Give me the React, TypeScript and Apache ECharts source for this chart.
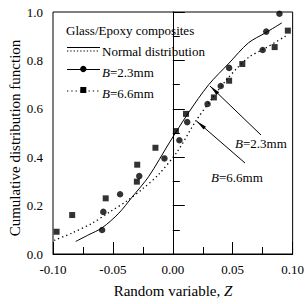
import React, { useEffect, useRef } from "react";
import * as echarts from "echarts";

// B = 2.3 mm measured points
const circleX = [-0.059, -0.058, -0.044, -0.028, -0.007, 0.0055, 0.012, 0.029, 0.040, 0.047, 0.075, 0.078, 0.089];
const circleY = [0.099, 0.174, 0.247, 0.322, 0.395, 0.470, 0.545, 0.620, 0.694, 0.769, 0.843, 0.919, 0.993];

// B = 6.6 mm measured points
const squareX = [-0.097, -0.084, -0.056, -0.030, -0.0297, -0.0145, 0.0026, 0.011, 0.0343, 0.047, 0.058, 0.085, 0.096];
const squareY = [0.092, 0.161, 0.230, 0.299, 0.369, 0.439, 0.508, 0.579, 0.647, 0.716, 0.785, 0.855, 0.923];

// Normal distribution curve for B = 2.3 mm (solid)
const solidX = [-0.081, -0.070, -0.059, -0.045, -0.034, -0.020, -0.003, 0.013, 0.030, 0.047, 0.063, 0.077, 0.091];
const solidY = [0.052, 0.080, 0.108, 0.169, 0.235, 0.321, 0.459, 0.583, 0.700, 0.789, 0.872, 0.913, 0.955];

// Normal distribution curve for B = 6.6 mm (dotted)
const dottedX = [-0.099, -0.084, -0.067, -0.052, -0.039, -0.025, -0.012, 0.004, 0.019, 0.034, 0.044, 0.054, 0.064, 0.077, 0.096];
const dottedY = [0.056, 0.087, 0.128, 0.176, 0.217, 0.270, 0.328, 0.425, 0.548, 0.651, 0.715, 0.770, 0.815, 0.850, 0.906];

const legendTitle = "Glass/Epoxy composites";
const legendNormal = "Normal distribution";
const label23 = "{i|B}{n|=2.3mm}";
const label66 = "{i|B}{n|=6.6mm}";
const xTitle = "{n|Random variable, }{i|Z}";
const yTitle = "Cumulative distribution function";

const FONT = "Liberation Serif, serif";

const rich = (size: number) => ({
  i: { fontStyle: "italic", fontFamily: FONT, fontSize: size, fill: "#000" },
  n: { fontStyle: "normal", fontFamily: FONT, fontSize: size, fill: "#000" },
});

function arrowHead(tip: [number, number], tail: [number, number], len: number, half: number) {
  const dx = tail[0] - tip[0];
  const dy = tail[1] - tip[1];
  const d = Math.sqrt(dx * dx + dy * dy);
  const ux = dx / d;
  const uy = dy / d;
  const bx = tip[0] + ux * len;
  const by = tip[1] + uy * len;
  return [
    [tip[0], tip[1]],
    [bx - uy * half, by + ux * half],
    [bx + uy * half, by - ux * half],
  ];
}

export default function App() {
  const ref = useRef<HTMLDivElement>(null);

  useEffect(() => {
    if (!ref.current) return;
    const chart = echarts.init(ref.current, undefined, { renderer: "svg" });

    const axisCommon = {
      axisLine: { lineStyle: { color: "#000", width: 1 } },
      axisTick: { inside: true, length: 12, lineStyle: { color: "#000", width: 1 } },
      minorTick: { show: true, splitNumber: 2, length: 7, lineStyle: { color: "#000", width: 1 } },
      splitLine: { show: false },
      minorSplitLine: { show: false },
    };

    const a1Tip: [number, number] = [210, 86];
    const a1Tail: [number, number] = [261, 135];
    const a2Tip: [number, number] = [196.5, 121];
    const a2Tail: [number, number] = [245, 163];

    const txt = (x: number, y: number, text: string, size = 13, extra: any = {}) => ({
      type: "text",
      x,
      y,
      style: {
        text,
        fontFamily: FONT,
        fontSize: size,
        fill: "#000",
        verticalAlign: "middle",
        rich: rich(size),
        ...extra,
      },
    });

    chart.setOption({
      animation: false,
      backgroundColor: "#fff",
      textStyle: { fontFamily: FONT },
      grid: {
        left: 53,
        right: 13,
        top: 12,
        bottom: 50,
        show: true,
        borderColor: "#000",
        borderWidth: 1,
        backgroundColor: "transparent",
      },
      xAxis: {
        type: "value",
        min: -0.1,
        max: 0.1,
        interval: 0.05,
        ...axisCommon,
        axisLabel: {
          color: "#000",
          fontFamily: FONT,
          fontSize: 13,
          margin: 9,
          formatter: (v: number) => v.toFixed(2),
        },
      },
      yAxis: {
        type: "value",
        min: 0,
        max: 1,
        interval: 0.2,
        ...axisCommon,
        axisLabel: {
          color: "#000",
          fontFamily: FONT,
          fontSize: 13,
          margin: 10,
          formatter: (v: number) => v.toFixed(1),
        },
      },
      series: [
        {
          type: "line",
          data: solidX.map((x, i) => [x, solidY[i]]),
          showSymbol: false,
          smooth: 0.3,
          lineStyle: { color: "#000", width: 1 },
          z: 2,
        },
        {
          type: "line",
          data: dottedX.map((x, i) => [x, dottedY[i]]),
          showSymbol: false,
          smooth: 0.3,
          lineStyle: { color: "#000", width: 1.3, type: [1.3, 3] },
          z: 2,
        },
        {
          type: "scatter",
          data: circleX.map((x, i) => [x, circleY[i]]),
          symbol: "circle",
          symbolSize: 6.5,
          itemStyle: { color: "#000" },
          z: 3,
        },
        {
          type: "scatter",
          data: squareX.map((x, i) => [x, squareY[i]]),
          symbol: "rect",
          symbolSize: 6,
          itemStyle: { color: "#000" },
          z: 3,
        },
      ],
      graphic: [
        // axis titles
        {
          type: "text",
          x: 15,
          y: 138,
          rotation: Math.PI / 2,
          style: {
            text: yTitle,
            fontFamily: FONT,
            fontSize: 15,
            fill: "#000",
            align: "center",
            verticalAlign: "middle",
          },
        },
        txt(173, 291, xTitle, 15, { align: "center" }),
        // legend
        txt(66, 30, legendTitle),
        { type: "line", shape: { x1: 67, y1: 47.5, x2: 100, y2: 47.5 }, style: { stroke: "#000", lineWidth: 1 } },
        {
          type: "line",
          shape: { x1: 67, y1: 51, x2: 100, y2: 51 },
          style: { stroke: "#000", lineWidth: 1.2, lineDash: [1.3, 2] },
        },
        txt(102, 51.5, legendNormal),
        { type: "line", shape: { x1: 67, y1: 69.5, x2: 100, y2: 69.5 }, style: { stroke: "#000", lineWidth: 1 } },
        { type: "circle", shape: { cx: 83.3, cy: 69, r: 3.2 }, style: { fill: "#000" } },
        txt(102, 72, label23),
        {
          type: "line",
          shape: { x1: 67, y1: 91, x2: 100, y2: 91 },
          style: { stroke: "#000", lineWidth: 1.2, lineDash: [1.3, 3] },
        },
        { type: "rect", shape: { x: 80.3, y: 87, width: 6, height: 6 }, style: { fill: "#000" } },
        txt(102, 93, label66),
        // annotations
        {
          type: "line",
          shape: { x1: a1Tip[0], y1: a1Tip[1], x2: a1Tail[0], y2: a1Tail[1] },
          style: { stroke: "#000", lineWidth: 1 },
        },
        {
          type: "polygon",
          shape: { points: arrowHead(a1Tip, a1Tail, 11, 1.8) },
          style: { fill: "#000" },
        },
        {
          type: "line",
          shape: { x1: a2Tip[0], y1: a2Tip[1], x2: a2Tail[0], y2: a2Tail[1] },
          style: { stroke: "#000", lineWidth: 1 },
        },
        {
          type: "polygon",
          shape: { points: arrowHead(a2Tip, a2Tail, 11, 1.8) },
          style: { fill: "#000" },
        },
        txt(235, 143, label23),
        txt(211, 177, label66),
      ],
    });

    return () => chart.dispose();
  }, []);

  return <div ref={ref} style={{ width: 307, height: 304, position: "absolute", left: 0, top: 0 }} />;
}
